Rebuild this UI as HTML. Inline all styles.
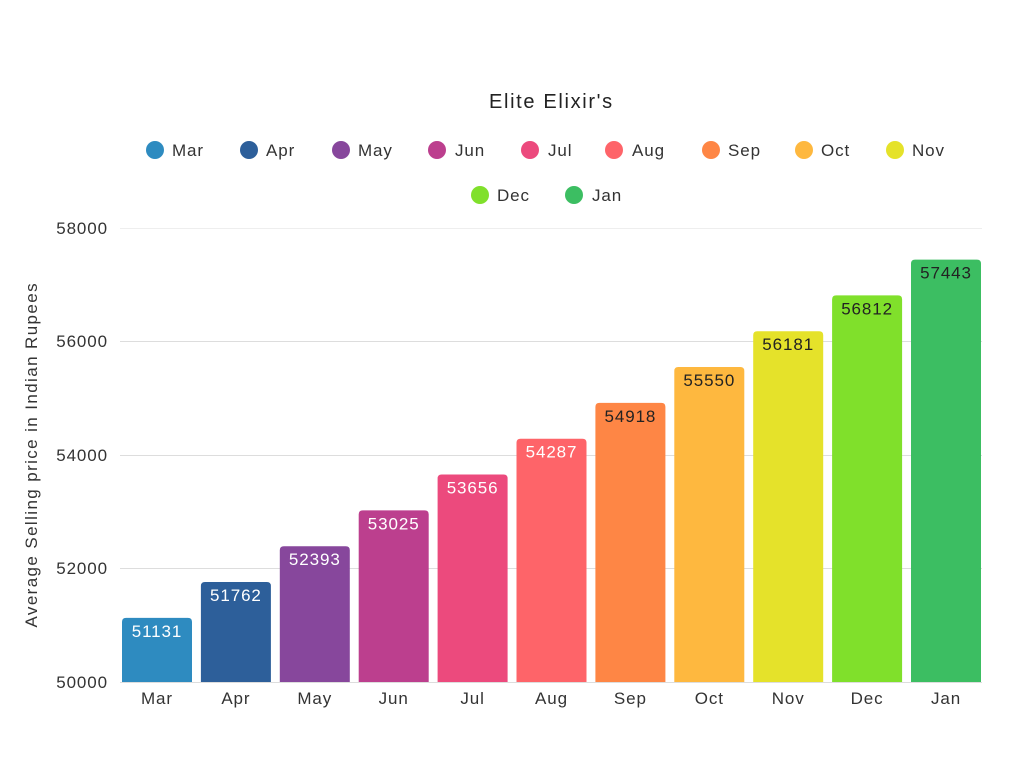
<!DOCTYPE html>
<html><head><meta charset="utf-8"><style>
html,body{margin:0;padding:0;background:#fff;}
svg{display:block;font-family:"Liberation Sans",sans-serif;}
text{letter-spacing:0.9px;}
</style></head><body>
<svg width="1024" height="768" viewBox="0 0 1024 768" xmlns="http://www.w3.org/2000/svg">
<rect width="1024" height="768" fill="#fff"/>
<text x="551" y="108" font-size="20" text-anchor="middle" fill="#222" textLength="124" lengthAdjust="spacing">Elite Elixir's</text>
<g font-size="17" fill="#333">
<circle cx="155" cy="150" r="9" fill="#2e8bc0"/><text x="172" y="156">Mar</text>
<circle cx="249" cy="150" r="9" fill="#2d5f9a"/><text x="266" y="156">Apr</text>
<circle cx="341" cy="150" r="9" fill="#87479c"/><text x="358" y="156">May</text>
<circle cx="437" cy="150" r="9" fill="#bc3f8e"/><text x="455" y="156">Jun</text>
<circle cx="530" cy="150" r="9" fill="#ec4a7d"/><text x="548" y="156">Jul</text>
<circle cx="614" cy="150" r="9" fill="#fe6469"/><text x="632" y="156">Aug</text>
<circle cx="711" cy="150" r="9" fill="#fe8645"/><text x="728" y="156">Sep</text>
<circle cx="804" cy="150" r="9" fill="#feb83f"/><text x="821" y="156">Oct</text>
<circle cx="895" cy="150" r="9" fill="#e5e22a"/><text x="912" y="156">Nov</text>
<circle cx="480" cy="195" r="9" fill="#80e02b"/><text x="497" y="201">Dec</text>
<circle cx="574" cy="195" r="9" fill="#3cbe62"/><text x="592" y="201">Jan</text>
</g>
<g stroke="#ddd" stroke-width="1">
<line x1="120" y1="228.5" x2="982" y2="228.5" stroke="#eee"/>
<line x1="120" y1="341.5" x2="982" y2="341.5"/>
<line x1="120" y1="455.5" x2="982" y2="455.5"/>
<line x1="120" y1="568.5" x2="982" y2="568.5"/>
<line x1="120" y1="682.5" x2="982" y2="682.5"/>
</g>
<g font-size="17" fill="#333" text-anchor="end">
<text x="108" y="234">58000</text>
<text x="108" y="347">56000</text>
<text x="108" y="461">54000</text>
<text x="108" y="574">52000</text>
<text x="108" y="688">50000</text>
</g>
<text transform="translate(37,455) rotate(-90)" font-size="17" fill="#333" text-anchor="middle" textLength="345" lengthAdjust="spacing">Average Selling price in Indian Rupees</text>
<g id="bars"></g>
<g id="xl" font-size="17" fill="#333" text-anchor="middle"></g>
<script>
var d=[["Mar",51131,"#2e8bc0",1],["Apr",51762,"#2d5f9a",1],["May",52393,"#87479c",1],["Jun",53025,"#bc3f8e",1],["Jul",53656,"#ec4a7d",1],["Aug",54287,"#fe6469",1],["Sep",54918,"#fe8645",0],["Oct",55550,"#feb83f",0],["Nov",56181,"#e5e22a",0],["Dec",56812,"#80e02b",0],["Jan",57443,"#3cbe62",0]];
var ns="http://www.w3.org/2000/svg",b=document.getElementById("bars"),xl=document.getElementById("xl");
d.forEach(function(e,i){
 var x=122+78.9*i,w=70,t=682-(e[1]-50000)*0.05675,r=4;
 var p=document.createElementNS(ns,"path");
 p.setAttribute("d","M"+x+",682 V"+(t+r)+" Q"+x+","+t+" "+(x+r)+","+t+" H"+(x+w-r)+" Q"+(x+w)+","+t+" "+(x+w)+","+(t+r)+" V682 Z");
 p.setAttribute("fill",e[2]);b.appendChild(p);
 var tx=document.createElementNS(ns,"text");
 tx.setAttribute("x",x+w/2);tx.setAttribute("y",t+19);tx.setAttribute("font-size","17");
 tx.setAttribute("text-anchor","middle");tx.setAttribute("fill",e[3]?"#fff":"#222");
 tx.textContent=e[1];b.appendChild(tx);
 var l=document.createElementNS(ns,"text");
 l.setAttribute("x",x+w/2);l.setAttribute("y",704);l.textContent=e[0];xl.appendChild(l);
});
</script>
</svg>
</body></html>
